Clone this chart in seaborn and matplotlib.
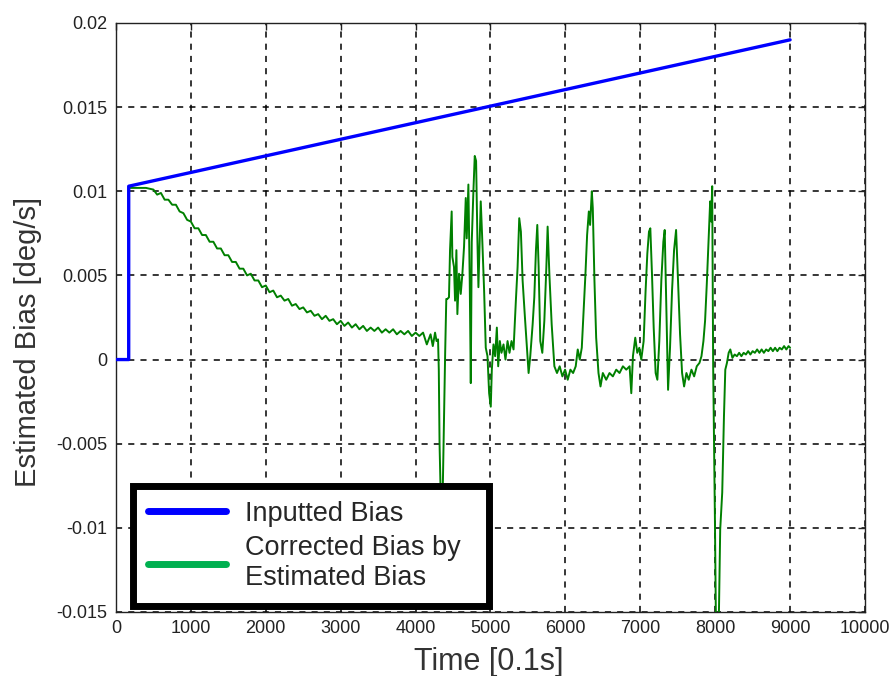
import matplotlib
matplotlib.use("Agg")
import matplotlib.pyplot as plt
from matplotlib.lines import Line2D
import seaborn as sns
import pandas as pd

# ---- data ----
blue_t = [0, 170, 170, 9000]
blue_v = [0.0, 0.0, 0.0103, 0.0190]

green_t = [
    0, 170, 170, 400,
    500, 550, 600, 650, 700, 750, 800, 850, 900, 950,
    1000, 1050, 1100, 1150, 1200, 1250, 1300, 1350, 1400, 1450,
    1500, 1550, 1600, 1650, 1700, 1750, 1800, 1850, 1900, 1950,
    2000, 2050, 2100, 2150, 2200, 2250, 2300, 2350, 2400, 2450,
    2500, 2550, 2600, 2650, 2700, 2750, 2800, 2850, 2900, 2950,
    3000, 3050, 3100, 3150, 3200, 3250, 3300, 3350, 3400, 3450,
    3500, 3550, 3600, 3650, 3700, 3750, 3800, 3850, 3900, 3950,
    4000, 4050, 4100, 4150, 4200, 4230, 4260, 4280, 4300,
    4310, 4320, 4340, 4360, 4380, 4395, 4410, 4424, 4446,
    4460, 4482, 4491, 4513, 4527, 4545, 4558, 4580, 4603, 4625,
    4647, 4670, 4683, 4705, 4723, 4737, 4750, 4772, 4790, 4808,
    4826, 4839, 4853, 4870, 4888, 4915, 4937, 4960, 4982, 5004,
    5018, 5040, 5062, 5085, 5103, 5125, 5147, 5174, 5200, 5228,
    5254, 5281, 5308, 5339, 5362, 5384, 5406, 5429, 5460, 5487,
    5509, 5531, 5563, 5585, 5607, 5625, 5643, 5665, 5692, 5719,
    5746, 5763, 5786, 5817, 5853, 5888, 5924, 5960, 5996, 6031,
    6067, 6103, 6138, 6165, 6192, 6219, 6246, 6268, 6290, 6313,
    6330, 6353, 6366, 6388, 6411, 6442, 6469, 6500, 6545, 6589,
    6634, 6679, 6723, 6768, 6813, 6857, 6880, 6902, 6933, 6960,
    6987, 7013, 7045, 7071, 7094, 7116, 7134, 7156, 7179, 7205,
    7228, 7254, 7281, 7308, 7326, 7348, 7371, 7397, 7424, 7451,
    7478, 7504, 7531, 7558, 7585, 7616, 7647, 7683, 7719, 7754,
    7790, 7817, 7843, 7865, 7888, 7910, 7933, 7946, 7960, 7973,
    7996, 8013, 8045, 8067, 8094, 8117, 8135, 8157, 8180, 8202,
    8230, 8260, 8290, 8320, 8350, 8380, 8410, 8440, 8470, 8500,
    8530, 8560, 8590, 8620, 8650, 8680, 8710, 8740, 8770, 8800,
    8830, 8860, 8890, 8920, 8950, 8980, 9000,
]
green_v = [
    0.0, 0.0, 0.0102, 0.0102,
    0.0101, 0.0098, 0.0099, 0.0095, 0.0095, 0.0092, 0.0092, 0.0088, 0.0087, 0.0083,
    0.0082, 0.0078, 0.0078, 0.0074, 0.0074, 0.0070, 0.0070, 0.0066, 0.0066, 0.0062,
    0.0062, 0.0058, 0.0058, 0.0054, 0.0054, 0.0050, 0.0051, 0.0047, 0.0047, 0.0043,
    0.0044, 0.0040, 0.0041, 0.0037, 0.0038, 0.0035, 0.0036, 0.0032, 0.0033, 0.0030,
    0.0031, 0.0028, 0.0029, 0.0026, 0.0027, 0.0024, 0.0026, 0.0023, 0.0024, 0.0021,
    0.0023, 0.0020, 0.0022, 0.0019, 0.0021, 0.0018, 0.0020, 0.0017, 0.0019, 0.0017,
    0.0019, 0.0016, 0.0018, 0.0016, 0.0018, 0.0015, 0.0017, 0.0015, 0.0017, 0.0014,
    0.0016, 0.0014, 0.0016, 0.0009, 0.0015, 0.0008, 0.0016, 0.0011, 0.0012,
    -0.0006, -0.0050, -0.0090, -0.0085, -0.0032, 0.0004, 0.0036, 0.0036, 0.0037,
    0.0065, 0.0088, 0.0061, 0.0055, 0.0035, 0.0065, 0.0027, 0.0051, 0.0039, 0.0051,
    0.0067, 0.0096, 0.0072, 0.0104, 0.0047, -0.0014, 0.0070, 0.0100, 0.0121, 0.0118,
    0.0070, 0.0043, 0.0065, 0.0094, 0.0074, 0.0041, 0.0007, 0.0002, -0.0020, -0.0028,
    -0.0006, 0.0009, 0.0002, 0.0019, -0.0004, 0.0011, 0.0004, 0.0009, 0.0000, 0.0011,
    0.0004, 0.0011, 0.0006, 0.0035, 0.0055, 0.0084, 0.0076, 0.0047, 0.0025, 0.0007,
    -0.0008, 0.0002, 0.0021, 0.0037, 0.0065, 0.0080, 0.0055, 0.0011, 0.0004, 0.0023,
    0.0055, 0.0079, 0.0051, 0.0021, -0.0004, -0.0008, -0.0004, -0.0010, -0.0006, -0.0012,
    -0.0006, -0.0008, -0.0004, 0.0006, 0.0000, 0.0007, 0.0031, 0.0051, 0.0074, 0.0088,
    0.0080, 0.0100, 0.0090, 0.0047, 0.0013, -0.0008, -0.0016, -0.0008, -0.0012, -0.0008,
    -0.0010, -0.0006, -0.0008, -0.0004, -0.0006, -0.0004, -0.0020, 0.0002, 0.0013, 0.0004,
    0.0007, 0.0000, 0.0011, 0.0041, 0.0063, 0.0076, 0.0078, 0.0051, 0.0019, -0.0008,
    -0.0012, 0.0011, 0.0047, 0.0070, 0.0077, 0.0031, -0.0018, 0.0007, 0.0041, 0.0065,
    0.0077, 0.0047, 0.0015, -0.0008, -0.0016, -0.0008, -0.0012, -0.0006, -0.0010, -0.0004,
    -0.0002, 0.0002, 0.0011, 0.0023, 0.0045, 0.0069, 0.0094, 0.0082, 0.0103, -0.0004,
    -0.0093, -0.0170, -0.0165, -0.0101, -0.0079, -0.0034, -0.0006, -0.0002, 0.0004, 0.0006,
    0.0001, 0.0003, 0.0002, 0.0004, 0.0002, 0.0004, 0.0003, 0.0005, 0.0003, 0.0005,
    0.0004, 0.0006, 0.0004, 0.0006, 0.0004, 0.0006, 0.0005, 0.0007, 0.0005, 0.0007,
    0.0005, 0.0007, 0.0006, 0.0008, 0.0006, 0.0008, 0.0007,
]

x_ticks = [0, 1000, 2000, 3000, 4000, 5000, 6000, 7000, 8000, 9000, 10000]
y_ticks = [-0.015, -0.01, -0.005, 0, 0.005, 0.01, 0.015, 0.02]
y_tick_labels = ["-0.015", "-0.01", "-0.005", "0", "0.005", "0.01", "0.015", "0.02"]
legend_labels = ["Inputted Bias", "Corrected Bias by\nEstimated Bias"]

# ---- plot ----
sns.set_style("white")
plt.rcParams["font.family"] = ["Liberation Sans", "DejaVu Sans"]

fig = plt.figure(figsize=(8.9, 6.76), dpi=100)
ax = fig.add_axes([0.1303, 0.0947, 0.8416, 0.8713])

blue_df = pd.DataFrame({"t": blue_t, "v": blue_v})
green_df = pd.DataFrame({"t": green_t, "v": green_v})

sns.lineplot(data=green_df, x="t", y="v", ax=ax, color="#008000", lw=1.4,
             estimator=None, sort=False, zorder=3)
sns.lineplot(data=blue_df, x="t", y="v", ax=ax, color="#0000FF", lw=2.4,
             estimator=None, sort=False, zorder=4)

ax.set_xlim(0, 10000)
ax.set_ylim(-0.015, 0.02)
ax.set_xticks(x_ticks)
ax.set_xticklabels([str(t) for t in x_ticks])
ax.set_yticks(y_ticks)
ax.set_yticklabels(y_tick_labels)
ax.tick_params(direction="in", length=5, width=1, top=True, right=True,
               labelsize=13, colors="#222222", pad=6)
ax.grid(True, color="black", linestyle=(0, (4, 4)), lw=1.1)
for s in ax.spines.values():
    s.set_color("#222222")
    s.set_linewidth(1.0)
    s.set_visible(True)

ax.set_xlabel("Time [0.1s]", fontsize=22, color="#333333")
ax.xaxis.set_label_coords(0.498, -0.059)
ax.set_ylabel("Estimated Bias [deg/s]", fontsize=21, color="#333333")
ax.yaxis.set_label_coords(-0.099, 0.458)

handles = [Line2D([], [], color="#0000FF", lw=5),
           Line2D([], [], color="#00B050", lw=5)]
leg = ax.legend(handles, legend_labels, loc="lower left",
                bbox_to_anchor=(0.0227, 0.0102, 0.4753, 0.2), mode="expand",
                borderaxespad=0,
                fontsize=19.5, frameon=True, fancybox=False, framealpha=1,
                handlelength=2.9, handletextpad=0.7, labelspacing=0.3,
                borderpad=0.55)
leg.get_frame().set_edgecolor("black")
leg.get_frame().set_linewidth(5)
leg.set_zorder(10)

fig.savefig("out.png", dpi=100)
